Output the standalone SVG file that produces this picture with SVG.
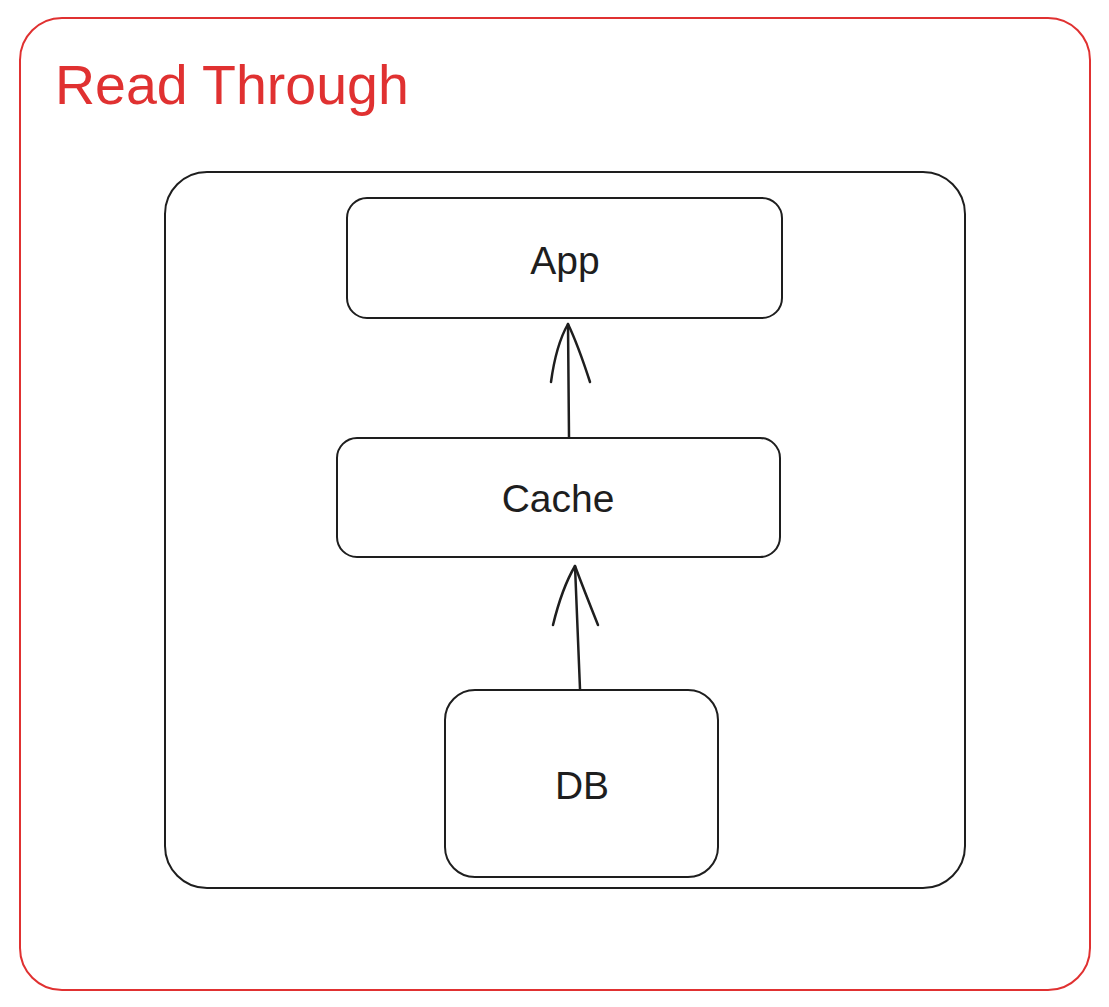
<svg xmlns="http://www.w3.org/2000/svg" width="1109" height="1007" viewBox="0 0 1109 1007">
<style>
.box{fill:none;stroke:#1e1e1e;stroke-width:2}
.frame{fill:none;stroke:#e03131;stroke-width:2}
.lbl{font-family:"Liberation Sans",Arial,sans-serif;font-size:39px;fill:#1e1e1e;text-anchor:middle;dominant-baseline:central}
.title{font-family:"Liberation Sans",Arial,sans-serif;font-size:55.5px;fill:#e03131}
.conn{fill:none;stroke:#1e1e1e;stroke-width:2.5;stroke-linecap:round;stroke-linejoin:round}
</style>
<rect width="1109" height="1007" fill="#ffffff"/>
<g id="frame-read-through">
<rect class="frame" x="20" y="18" width="1070" height="972" rx="42"/>
<text class="title" x="55" y="104">Read Through</text>
</g>
<g id="container">
<rect class="box" x="165" y="172" width="800" height="716" rx="42"/>
</g>
<g id="app">
<rect class="box" x="347" y="198" width="435" height="120" rx="20"/>
<text class="lbl" x="565" y="260">App</text>
</g>
<g id="cache">
<rect class="box" x="337" y="438" width="443" height="119" rx="20"/>
<text class="lbl" x="558" y="498">Cache</text>
</g>
<g id="db">
<rect class="box" x="445" y="690" width="273" height="187" rx="30"/>
<text class="lbl" x="582" y="785">DB</text>
</g>
<g id="connectors">
<path class="conn" d="M569 437 L568 324"/>
<path class="conn" d="M551 382 Q556 345 568 324 Q578 345 590 382"/>
<path class="conn" d="M580 689 L575 566"/>
<path class="conn" d="M553 625 Q562 588 575 566 Q584 590 598 625"/>
</g>
</svg>
